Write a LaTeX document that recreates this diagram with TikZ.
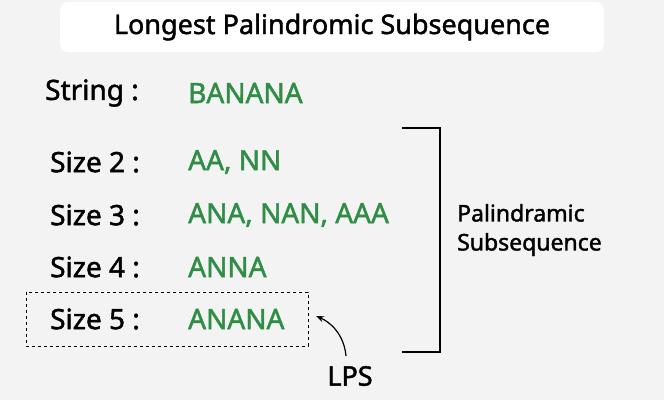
\documentclass[tikz,border=0pt]{standalone}
\usepackage{fontspec}
\setmainfont{Noto Sans}[AutoFakeBold=1.6]
\usetikzlibrary{arrows.meta}
\definecolor{gg}{HTML}{2F8D46}
\definecolor{bg}{HTML}{F3F3F3}
\tikzset{lbl/.style={anchor=west,font=\fontsize{28}{30}\selectfont\bfseries,inner sep=0},
 val/.style={lbl,text=gg}}
\begin{document}
\begin{tikzpicture}[x=1pt,y=-1pt]
\fill[bg] (0,0) rectangle (664,400);
\useasboundingbox (0,0) rectangle (664,400);
\node[fill=white,rounded corners=8pt,minimum width=544pt,minimum height=50pt,font=\fontsize{27}{30}\selectfont\bfseries] (t) at (332,27) {Longest Palindromic Subsequence};
\node[lbl] (s0) at (45,93) {String :};
\node[val] (v0) at (188,93) {BANANA};
\node[lbl] (s2) at (50,162) {Size 2 :};
\node[val] (v2) at (188,162) {AA, NN};
\node[lbl] (s3) at (50,215) {Size 3 :};
\node[val] (v3) at (188,215) {ANA, NAN, AAA};
\node[lbl] (s4) at (50,267) {Size 4 :};
\node[val] (v4) at (188,267) {ANNA};
\node[lbl] (s5) at (50,319) {Size 5 :};
\node[val] (v5) at (188,319) {ANANA};
\draw[dashed,line width=1pt] (26,292) rectangle (308,346);
\coordinate (b1) at (402,128); \coordinate (b2) at (402,352);
\draw[line width=2pt] (b1) -- (440,128) -- (440,352) -- (b2);
\node[anchor=west,align=left,font=\fontsize{23}{29}\selectfont\bfseries,inner sep=0] (p) at (457,230) {Palindramic\\Subsequence};
\node[font=\fontsize{27}{30}\selectfont\bfseries,inner sep=2pt] (lps) at (350,376) {LPS};
\coordinate (tip) at (316,316);
\draw[-{Stealth[length=8pt]},line width=1.2pt] (346,356) .. controls (344,334) and (330,322) .. (tip);
\end{tikzpicture}
\end{document}
